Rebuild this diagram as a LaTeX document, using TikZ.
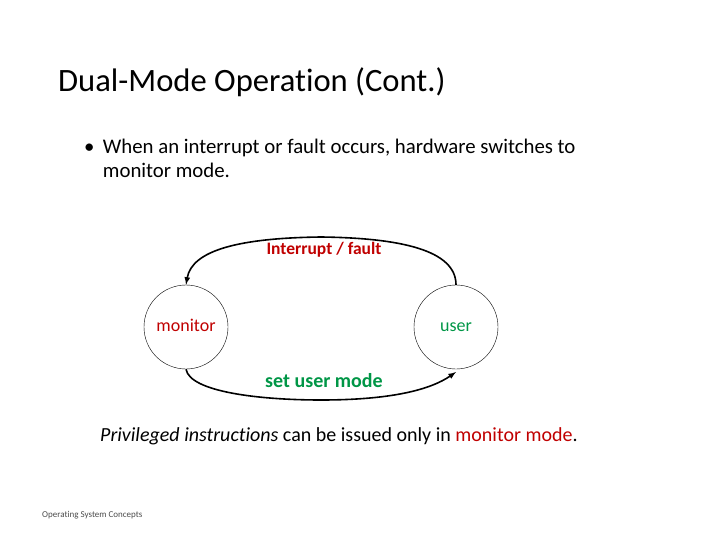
\documentclass[tikz,border=0pt]{standalone}
\usepackage{fontspec}
\setmainfont[Ligatures=NoCommon]{Carlito}
\definecolor{dred}{RGB}{192,0,0}
\definecolor{dgreen}{RGB}{0,150,70}
\begin{document}
\begin{tikzpicture}[x=1pt,y=-1pt,
  state/.style={circle,draw,thin,minimum size=84pt,inner sep=0,text height=11pt,text depth=3pt},
  arc/.style={line width=1.6pt,-latex}]
\useasboundingbox (0,0) rectangle (720,540);
\node[anchor=west,font=\fontsize{32.6}{36}\selectfont,inner sep=0] (title) at (58,82) {Dual-Mode Operation (Cont.)};
\node[anchor=north west,align=left,font=\fontsize{20.8}{24}\selectfont,inner sep=0] (b) at (84,139)
 {\textbullet\hspace{0.4em}When an interrupt or fault occurs, hardware switches to\\\hspace{0.9em}monitor mode.};
\node[state,font=\fontsize{18}{20}\selectfont,text=dred] (m) at (186,327) {monitor};
\node[state,font=\fontsize{18}{20}\selectfont,text=dgreen] (u) at (456,327) {user};
\draw[arc] (u.north) .. controls (456,250) and (400,238) .. (321,237) .. controls (240,238) and (192,250) .. (m.north);
\draw[arc] (m.south) .. controls (190,392) and (260,400) .. (321,400) .. controls (390,400) and (430,390) .. (456,372);
\node[font=\bfseries\fontsize{17.5}{20}\selectfont,text=dred] (l1) at (324,250) {Interrupt / fault};
\node[font=\bfseries\fontsize{20}{22}\selectfont,text=dgreen] (l2) at (324,381) {set user mode};
\node[anchor=west,font=\fontsize{20}{24}\selectfont,inner sep=0] (p) at (100,436) {\textit{Privileged instructions} can be issued only in \textcolor{dred}{monitor mode}.};
\node[anchor=west,font=\fontsize{9}{10}\selectfont,text=black!70,inner sep=0] (f) at (42,515) {Operating System Concepts};
\end{tikzpicture}
\end{document}
